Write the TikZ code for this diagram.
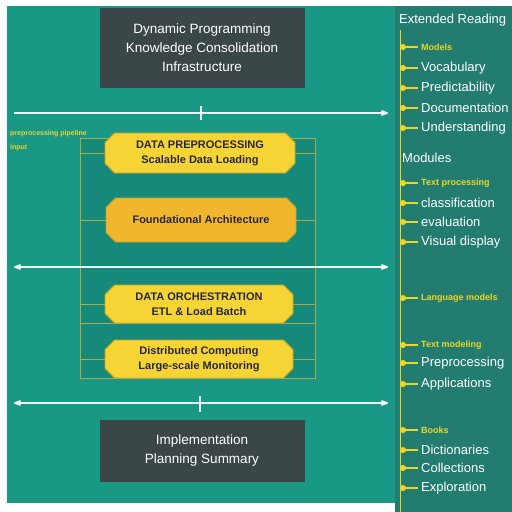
\documentclass[tikz,border=0pt]{standalone}
\usepackage{fontspec}
\setmainfont{Liberation Sans}
\usetikzlibrary{positioning,arrows.meta,shapes.misc}

\definecolor{mainteal}{RGB}{26,152,134}
\definecolor{panelteal}{RGB}{34,124,112}
\definecolor{innerteal}{RGB}{22,138,122}
\definecolor{boxgray}{RGB}{58,70,72}
\definecolor{boxyellow}{RGB}{246,212,52}
\definecolor{boxorange}{RGB}{240,182,44}
\definecolor{boxedge}{RGB}{196,160,40}
\definecolor{lineolive}{RGB}{170,170,70}
\definecolor{itemyellow}{RGB}{236,214,40}
\definecolor{stagetext}{RGB}{40,40,60}

\begin{document}
\begin{tikzpicture}[x=1pt,y=-1pt,
    darkbox/.style={fill=boxgray, text=white, minimum width=205, minimum height=80,
      align=center, font=\fontsize{13.5}{19}\selectfont},
    stagebox/.style={chamfered rectangle, chamfered rectangle xsep=6pt, fill=boxyellow,
      draw=boxedge, line width=0.8pt, minimum width=190, minimum height=40, inner sep=2pt,
      align=center, text=stagetext, font=\fontsize{11}{15}\selectfont\bfseries},
    axis/.style={draw=white!92!teal, line width=1.6pt},
    inline/.style={draw=lineolive, line width=0.8pt},
    ritem/.style={anchor=west, text=white, inner xsep=0pt, font=\fontsize{13}{15}\selectfont},
    ryellow/.style={anchor=west, text=itemyellow, inner xsep=0pt, font=\fontsize{9}{11}\selectfont\bfseries},
    bullet/.style={draw=itemyellow, line width=1.4pt, {Circle[length=6pt]}-, shorten >=3pt}]

  \useasboundingbox (0,0) rectangle (512,512);
  \fill[white] (0,0) rectangle (512,512);
  \fill[mainteal] (7,6) rectangle (395,503);
  \fill[panelteal] (395,6) rectangle (512,512);

  % inner frame
  \node[fill=innerteal, draw=lineolive, line width=0.8pt, minimum width=235, minimum height=240, inner sep=0pt] (F) at (197.5,258) {};

  % dark boxes
  \node[darkbox] (T) at (202,48) {Dynamic Programming\\Knowledge Consolidation\\Infrastructure};
  \node[darkbox, minimum height=62] (B) at (202,451) {Implementation\\Planning Summary};

  % yellow stages
  \node[stagebox] (Y1) at (200,153) {DATA PREPROCESSING\\Scalable Data Loading};
  \node[stagebox, fill=boxorange, minimum height=44] (Y2) at (201,220) {Foundational Architecture};
  \node[stagebox, minimum width=188, minimum height=38] (Y3) at (199,304) {DATA ORCHESTRATION\\ETL \& Load Batch};
  \node[stagebox, minimum width=188, minimum height=38] (Y4) at (199,359) {Distributed Computing\\Large-scale Monitoring};

  \draw[inline] (Y1.west -| F.west) -- (Y1.west);
  \draw[inline] (Y1.east) -- (Y1.east -| F.east);
  \draw[inline] (Y2.west -| F.west) -- (Y2.west);
  \draw[inline] (Y2.east) -- (Y2.east -| F.east);
  \draw[inline] (Y3.west -| F.west) -- (Y3.west);
  \draw[inline] (Y3.east) -- (Y3.east -| F.east);
  \draw[inline] (Y3.south -| F.west) -- (Y3.south -| F.east);
  \draw[inline] (Y4.west -| F.west) -- (Y4.west);
  \draw[inline] (Y4.east) -- (Y4.east -| F.east);

  % white axes
  \coordinate (A1) at (14,113);
  \coordinate (A2) at (388,113);
  \coordinate (B1) at (14,267);
  \coordinate (B2) at (388,267);
  \coordinate (C1) at (14,403);
  \coordinate (C2) at (388,403);
  \draw[axis, -{Stealth[round]}] (A1) -- (A2);
  \draw[axis] (201,106) -- (201,120);
  \draw[axis, {Stealth[round]}-{Stealth[round]}] (B1) -- (B2);
  \draw[axis, {Stealth[round]}-{Stealth[round]}] (C1) -- (C2);
  \draw[axis] (200,396) -- (200,412);

  % left notes
  \node[anchor=west, text=itemyellow, inner sep=0pt, font=\fontsize{7}{8}\selectfont\bfseries] (n1) at (10,134) {preprocessing pipeline};
  \node[anchor=west, text=itemyellow, inner sep=0pt, font=\fontsize{7}{8}\selectfont\bfseries] (n2) at (10,148) {input};

  % right panel
  \coordinate (spine) at (400,30);
  \draw[draw=itemyellow, line width=0.8pt] (spine) -- (400,512);
  \node[ritem] (H1) at (399,20) {Extended Reading};
  \node[ryellow] (R1) at (421,47) {Models};
  \node[ritem] (R2) at (421,68) {Vocabulary};
  \node[ritem] (R3) at (421,88) {Predictability};
  \node[ritem] (R4) at (421,108) {Documentation};
  \node[ritem] (R5) at (421,128) {Understanding};
  \node[ritem] (H2) at (402,158) {Modules};
  \node[ryellow] (R6) at (421,183) {Text processing};
  \node[ritem] (R7) at (421,203) {classification};
  \node[ritem] (R8) at (421,222) {evaluation};
  \node[ritem] (R9) at (421,242) {Visual display};
  \node[ryellow] (R10) at (421,298) {Language models};
  \node[ryellow] (R11) at (421,345) {Text modeling};
  \node[ritem] (R12) at (421,363) {Preprocessing};
  \node[ritem] (R13) at (421,384) {Applications};
  \node[ryellow] (R14) at (421,430) {Books};
  \node[ritem] (R15) at (421,450) {Dictionaries};
  \node[ritem] (R16) at (421,468) {Collections};
  \node[ritem] (R17) at (421,488) {Exploration};
  \draw[bullet] (spine |- R1.west) -- (R1.west);
  \draw[bullet] (spine |- R2.west) -- (R2.west);
  \draw[bullet] (spine |- R3.west) -- (R3.west);
  \draw[bullet] (spine |- R4.west) -- (R4.west);
  \draw[bullet] (spine |- R5.west) -- (R5.west);
  \draw[bullet] (spine |- R6.west) -- (R6.west);
  \draw[bullet] (spine |- R7.west) -- (R7.west);
  \draw[bullet] (spine |- R8.west) -- (R8.west);
  \draw[bullet] (spine |- R9.west) -- (R9.west);
  \draw[bullet] (spine |- R10.west) -- (R10.west);
  \draw[bullet] (spine |- R11.west) -- (R11.west);
  \draw[bullet] (spine |- R12.west) -- (R12.west);
  \draw[bullet] (spine |- R13.west) -- (R13.west);
  \draw[bullet] (spine |- R14.west) -- (R14.west);
  \draw[bullet] (spine |- R15.west) -- (R15.west);
  \draw[bullet] (spine |- R16.west) -- (R16.west);
  \draw[bullet] (spine |- R17.west) -- (R17.west);
\end{tikzpicture}
\end{document}
